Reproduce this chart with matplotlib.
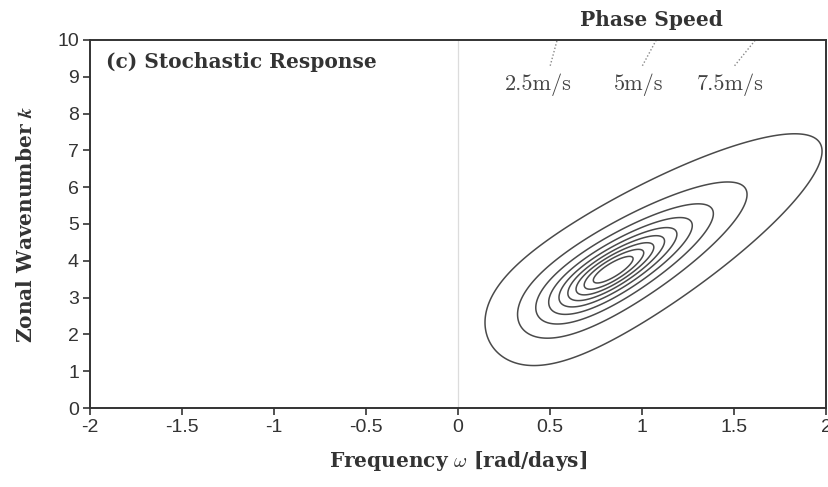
import numpy as np
import matplotlib
matplotlib.use("Agg")
import matplotlib.pyplot as plt

plt.rcParams["mathtext.fontset"] = "cm"

# Axis ranges and ticks
omega_ticks = [-2, -1.5, -1, -0.5, 0, 0.5, 1, 1.5, 2]
omega_tick_labels = ["-2", "-1.5", "-1", "-0.5", "0", "0.5", "1", "1.5", "2"]
k_ticks = [0, 1, 2, 3, 4, 5, 6, 7, 8, 9, 10]

# Response spectrum model parameters (peak location, orientation, widths)
omega_peak = 0.84
k_peak = 3.75
k_to_omega_scale = 5.0      # k units per omega unit of equal visual length
axis_angle_deg = 31.5
major_width = 0.375
minor_width = 0.11
skew = 0.522
bend = 0.0
quartic = 0.06
contour_levels = [0.1, 0.2, 0.3, 0.4, 0.5, 0.6, 0.7, 0.8, 0.9]

# Phase speed reference lines
phase_speeds = [2.5, 5.0, 7.5]           # m/s
phase_labels = ["2.5m/s", "5m/s", "7.5m/s"]
phase_label_omega = [0.435, 0.98, 1.48]
earth_radius = 6.371e6
latitude_deg = 51.0

omega = np.linspace(-2, 2, 801)
k = np.linspace(0, 10, 601)
W, K = np.meshgrid(omega, k)

u = W - omega_peak
v = (K - k_peak) / k_to_omega_scale
th = np.deg2rad(axis_angle_deg)
s = u * np.cos(th) + v * np.sin(th)
t = -u * np.sin(th) + v * np.cos(th)
t = t - bend * s ** 2
S = (1.0 - np.exp(-skew * s)) / skew / major_width
T = t / minor_width
q = S ** 2 + quartic * S ** 4 + T ** 2
response = 1.0 / (1.0 + q)

fig = plt.figure(figsize=(8.29, 4.87), dpi=100)
ax = fig.add_axes([0.1086, 0.1622, 0.8878, 0.7557])

ax.axvline(0, color="#dcdcdc", lw=0.9, zorder=0)
ax.contour(W, K, response, levels=contour_levels, colors="#4a4a4a",
           linewidths=1.1)

# Constant phase speed: omega = c k / (a cos(lat)), in rad/day
factor = 86400.0 / (earth_radius * np.cos(np.deg2rad(latitude_deg)))
k_seg = np.array([9.3, 10.0])
for c, lab, xl in zip(phase_speeds, phase_labels, phase_label_omega):
    ax.plot(c * factor * k_seg, k_seg, ls=(0, (1.0, 1.5)), color="#888888",
            lw=1.0)
    ax.text(xl, 8.78, lab, family="cmr10", fontsize=16, color="#444444",
            ha="center", va="center")

bold_serif = dict(family="DejaVu Serif", weight="bold", color="#333333")
ax.text(1.05, 10.54, "Phase Speed", fontsize=14.5, ha="center", va="center",
        clip_on=False, **bold_serif)
ax.text(-1.915, 9.4, "(c) Stochastic Response", fontsize=14.5, ha="left",
        va="center", **bold_serif)

ax.set_xlim(-2, 2)
ax.set_ylim(0, 10)
ax.set_xticks(omega_ticks)
ax.set_xticklabels(omega_tick_labels)
ax.set_yticks(k_ticks)
ax.tick_params(direction="out", length=5, width=1.2, colors="#333333",
               labelsize=14, pad=3)
for lbl in ax.get_xticklabels() + ax.get_yticklabels():
    lbl.set_family("Liberation Sans")
for sp in ax.spines.values():
    sp.set_color("#333333")
    sp.set_linewidth(1.4)

ax.set_xlabel(r"Frequency $\omega$ [rad/days]", fontsize=14.5, labelpad=9,
              **bold_serif)
ax.set_ylabel(r"Zonal Wavenumber $\boldsymbol{k}$", fontsize=14.5,
              labelpad=15, **bold_serif)

fig.savefig("out.png", dpi=100, facecolor="white")
